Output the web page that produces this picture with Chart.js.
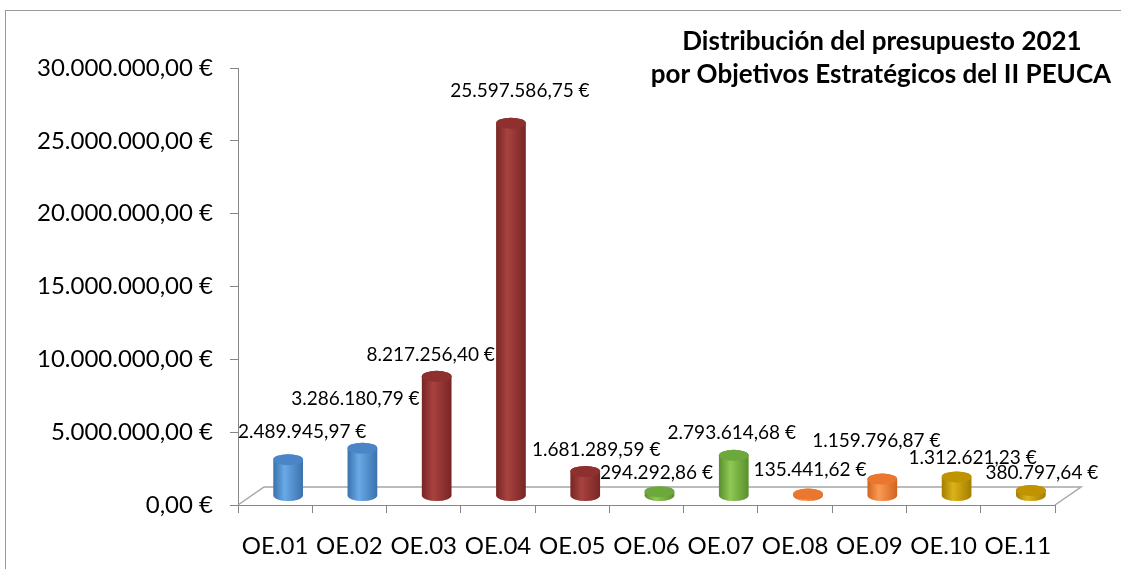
<!DOCTYPE html>
<html>
<head>
<meta charset="utf-8">
<script src="https://cdn.jsdelivr.net/npm/chart.js@4.4.1/dist/chart.umd.min.js"></script>
<style>
  body { margin: 0; background: #fff; }
  canvas { display: block; }
</style>
</head>
<body>
<canvas id="myChart" width="1121" height="569"></canvas>
<script>
// data
const categories = ['OE.01', 'OE.02', 'OE.03', 'OE.04', 'OE.05', 'OE.06', 'OE.07', 'OE.08', 'OE.09', 'OE.10', 'OE.11'];
const budget = [2489945.97, 3286180.79, 8217256.40, 25597586.75, 1681289.59, 294292.86, 2793614.68, 135441.62, 1159796.87, 1312621.23, 380797.64];
const yTicks = [0, 5000000, 10000000, 15000000, 20000000, 25000000, 30000000];
const titleLines = ['Distribución del presupuesto 2021', 'por Objetivos Estratégicos del II PEUCA'];

// cylinder colours (edge, highlight, top)
const blue = { dark: '#3b72ad', light: '#68a9e6', top: '#4a86c7' };
const red = { dark: '#772624', light: '#a8423f', top: '#8d302e' };
const green = { dark: '#5a8f2c', light: '#8ec955', top: '#6ca83b' };
const orange = { dark: '#d2641d', light: '#fb9a55', top: '#e9772e' };
const gold = { dark: '#a37d00', light: '#dcb21a', top: '#c09300' };
const barColors = [blue, blue, red, red, red, green, green, orange, orange, gold, gold];

// Excel shifts some value labels to dodge each other, copy that (px)
const labelNudgeX = [14, -7, -6, 9, 11, -3, -2, 2, -6, 16, 11];
const labelNudgeY = [-6, -27, 1, -10, 0, 3, 0, -2, -16, 3, 4];

const FONT = 'Lato, "Open Sans", sans-serif';
const DEPTH_X = 26; // floor depth offsets
const DEPTH_Y = -18;

// 30000000 -> "30.000.000,00 €"
function euro(v) {
  const parts = Number(v).toFixed(2).split('.');
  return parts[0].replace(/\B(?=(\d{3})+(?!\d))/g, '.') + ',' + parts[1] + ' €';
}

function drawCylinder(ctx, cx, top, base, rx, ry, col) {
  const g = ctx.createLinearGradient(cx - rx, 0, cx + rx, 0);
  g.addColorStop(0, col.dark);
  g.addColorStop(0.38, col.light);
  g.addColorStop(1, col.dark);
  ctx.beginPath();
  ctx.moveTo(cx - rx, top);
  ctx.lineTo(cx - rx, base);
  ctx.ellipse(cx, base, rx, ry, 0, Math.PI, 0, true);
  ctx.lineTo(cx + rx, top);
  ctx.ellipse(cx, top, rx, ry, 0, 0, Math.PI, true);
  ctx.closePath();
  ctx.fillStyle = g;
  ctx.fill();

  ctx.beginPath();
  ctx.ellipse(cx, top, rx, ry, 0, 0, Math.PI * 2);
  ctx.fillStyle = col.top;
  ctx.fill();
}

const cylinderPlugin = {
  id: 'cylinders',
  beforeDraw(chart) {
    const ctx = chart.ctx;
    ctx.save();
    ctx.fillStyle = '#fff';
    ctx.fillRect(0, 0, chart.width, chart.height);
    ctx.restore();
  },
  beforeDatasetsDraw(chart) {
    // 3d floor
    const ctx = chart.ctx;
    const a = chart.chartArea;
    ctx.save();
    ctx.strokeStyle = '#a6a6a6';
    ctx.lineWidth = 1.5;
    ctx.beginPath();
    ctx.moveTo(a.left, a.bottom);
    ctx.lineTo(a.left + DEPTH_X, a.bottom + DEPTH_Y);
    ctx.lineTo(a.right + DEPTH_X, a.bottom + DEPTH_Y);
    ctx.lineTo(a.right, a.bottom);
    ctx.stroke();
    ctx.restore();
  },
  afterDatasetsDraw(chart) {
    const ctx = chart.ctx;
    const meta = chart.getDatasetMeta(0);
    ctx.save();
    meta.data.forEach((bar, i) => {
      const cx = bar.x + DEPTH_X / 2;
      const top = bar.y + DEPTH_Y / 2;
      const base = bar.base + DEPTH_Y / 2;
      drawCylinder(ctx, cx, top, base, bar.width / 2, 5.5, barColors[i]);
    });
    // value labels
    ctx.fillStyle = '#000';
    ctx.font = '19px ' + FONT;
    ctx.textAlign = 'center';
    ctx.textBaseline = 'middle';
    meta.data.forEach((bar, i) => {
      const cx = bar.x + DEPTH_X / 2;
      const top = bar.y + DEPTH_Y / 2;
      ctx.fillText(euro(budget[i]), cx + labelNudgeX[i], top - 22 + labelNudgeY[i]);
    });
    ctx.restore();
  },
  afterDraw(chart) {
    const ctx = chart.ctx;
    ctx.save();
    // outer frame
    ctx.strokeStyle = '#9a9a9a';
    ctx.lineWidth = 1;
    ctx.strokeRect(5.5, 10.5, 1200, 700);
    // title
    ctx.fillStyle = '#000';
    ctx.font = 'bold 26px ' + FONT;
    ctx.textAlign = 'center';
    ctx.textBaseline = 'middle';
    ctx.fillText(titleLines[0], 882, 42);
    ctx.fillText(titleLines[1], 881, 75);
    ctx.restore();
  }
};

new Chart(document.getElementById('myChart'), {
  type: 'bar',
  data: {
    labels: categories,
    datasets: [{
      label: 'Presupuesto',
      data: budget,
      backgroundColor: 'rgba(0,0,0,0)',
      borderWidth: 0,
      categoryPercentage: 1,
      barPercentage: 0.4,
    }],
  },
  options: {
    responsive: false,
    animation: false,
    devicePixelRatio: 1,
    layout: {
      padding: { left: 0, top: 68, right: 66, bottom: 0 },
    },
    plugins: {
      legend: { display: false },
      tooltip: { enabled: false },
    },
    scales: {
      y: {
        min: 0,
        max: 30000000,
        afterBuildTicks: (s) => { s.ticks = yTicks.map((v) => ({ value: v })); },
        afterFit: (s) => { s.width = 238; },
        ticks: {
          callback: (v) => euro(v),
          color: '#000',
          font: { family: FONT, size: 24 },
          padding: 17,
        },
        grid: { drawOnChartArea: false, tickLength: 8, color: '#868686' },
        border: { color: '#868686' },
      },
      x: {
        afterFit: (s) => { s.height = 64; },
        ticks: {
          color: '#000',
          font: { family: FONT, size: 24 },
          padding: 19,
        },
        grid: { offset: true, drawOnChartArea: false, tickLength: 8, color: '#868686' },
        border: { color: '#868686' },
      },
    },
  },
  plugins: [cylinderPlugin],
});
</script>
</body>
</html>
